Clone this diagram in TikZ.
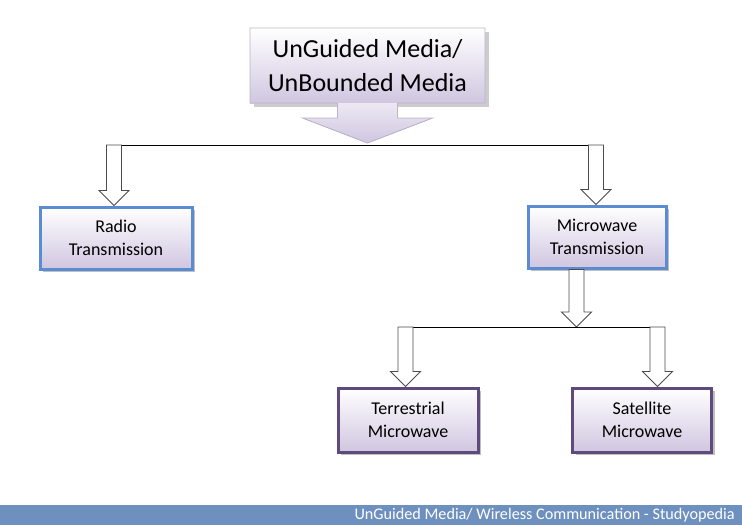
\documentclass[tikz,border=0pt]{standalone}
\usepackage{fontspec}
\setmainfont{Carlito}
\usetikzlibrary{calc, shadows}
\definecolor{boxblue}{HTML}{5B8BD0}
\definecolor{boxpurple}{HTML}{5E4A7C}
\definecolor{lavender}{HTML}{D0C6E0}
\definecolor{calloutline}{HTML}{BDB3CC}
\definecolor{barblue}{HTML}{6E90BF}
\newcommand\blockarrow[2]{%
  \draw[hollow] let \p1=(#1), \p2=(#2) in
    (\x1-7.5pt,\y1) -- (\x1+7.5pt,\y1) -- (\x1+7.5pt,\y2+15pt) -- (\x1+15pt,\y2+15pt)
    -- (\x1,\y2) -- (\x1-15pt,\y2+15pt) -- (\x1-7.5pt,\y2+15pt) -- cycle;}

\begin{document}
\begin{tikzpicture}[x=1pt, y=-1pt,
  mediabox/.style={draw, line width=3pt, top color=white, bottom color=lavender,
    minimum height=62pt, align=center, font=\fontsize{18}{23}\selectfont,
    drop shadow={shadow xshift=3pt, shadow yshift=-3pt, fill=black!25, opacity=1}},
  hollow/.style={draw=black!70, line width=0.9pt, fill=white},
  tree/.style={draw=black, line width=0.9pt}]
\useasboundingbox (0,0) rectangle (742,525);

% callout at the top
\coordinate (topc) at (367.5,65.5);
\fill[black!20] ($(topc)+(-114,-34)$) rectangle ($(topc)+(121,41)$);
\fill[top color=white, bottom color=lavender] ($(topc)+(-117.5,-37.5)$) rectangle ($(topc)+(117.5,37.5)$);
\fill[top color=white!60!lavender, bottom color=lavender] ($(topc)+(-30,37.5)$) -- ++(0,15) -- ++(-35,0) -- (367.5,143) -- ($(topc)+(65,52.5)$) -- ++(-35,0) -- ++(0,-15) -- cycle;
\draw[calloutline, line width=0.8pt] ($(topc)+(-117.5,-37.5)$) -- ++(235,0) -- ++(0,75) -- ++(-87.5,0) -- ++(0,15) -- ++(35,0)
  -- (367.5,143) -- ++(-65,-25) -- ++(35,0) -- ++(0,-15) -- ++(-87.5,0) -- cycle;
\node[align=center, font=\fontsize{26}{34}\selectfont] (top) at (topc) {UnGuided Media/\\UnBounded Media};

% media boxes
\node[mediabox, draw=boxblue, minimum width=152pt] (radio) at (116,238) {Radio\\Transmission};
\node[mediabox, draw=boxblue, minimum width=138pt] (micro) at (597,237) {Microwave\\Transmission};
\node[mediabox, draw=boxpurple, minimum width=140pt, minimum height=64pt] (terr) at (408,420) {Terrestrial\\Microwave};
\node[mediabox, draw=boxpurple, minimum width=139pt, minimum height=64pt] (sat) at (642,420) {Satellite\\Microwave};

% first split
\coordinate (lt) at (114,145);
\coordinate (rt) at (596,145);
\draw[tree] ($(lt)+(-7.5,0)$) -- ($(rt)+(7.5,0)$);
\blockarrow{lt}{radio.north}
\blockarrow{rt}{micro.north}

% second split
\coordinate (mdown) at (576.5,269.5);
\coordinate (split) at (576.5,327);
\coordinate (tl) at (405.5,327);
\coordinate (tr) at (657.5,327);
\blockarrow{mdown}{split}
\draw[tree] ($(tl)+(-7.5,0)$) -- ($(tr)+(7.5,0)$);
\blockarrow{tl}{terr.north}
\blockarrow{tr}{sat.north}

% footer
\fill[barblue] (0,505) rectangle (742,525);
\node[anchor=east, text=white, font=\fontsize{16.2}{18}\selectfont, inner sep=0pt] (footer) at (735,515.5) {UnGuided Media/ Wireless Communication - Studyopedia};
\end{tikzpicture}
\end{document}
